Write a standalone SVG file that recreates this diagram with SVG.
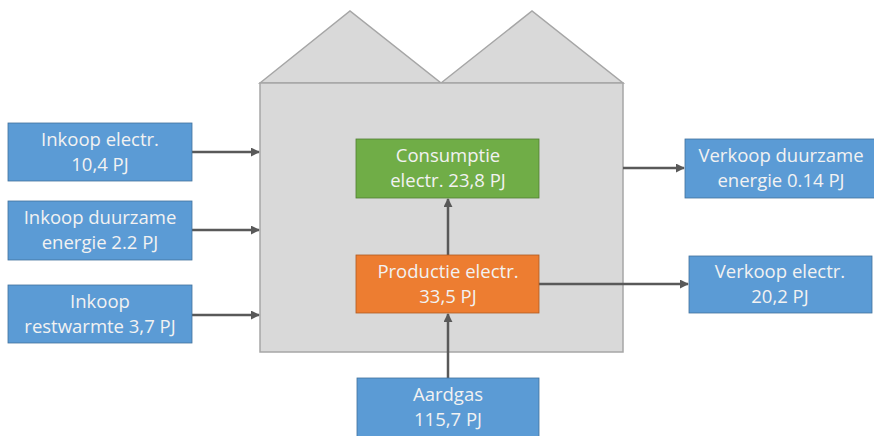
<svg xmlns="http://www.w3.org/2000/svg" width="874" height="436" viewBox="0 0 874 436">
<style>
.bld{fill:#D9D9D9;stroke:#A6A6A6;stroke-width:1.5}
.blue{fill:#5B9BD5;stroke:#41719C;stroke-width:0.8}
.green{fill:#70AD47;stroke:#507E32;stroke-width:0.8}
.orange{fill:#ED7D31;stroke:#AE5A21;stroke-width:0.8}
text{font-family:"Open Sans","Noto Sans","Liberation Sans",sans-serif;font-size:18.5px;fill:#F2F2F2;text-anchor:middle}
.con line{stroke:#595959;stroke-width:2.5;marker-end:url(#ah)}
</style>
<defs>
<marker id="ah" viewBox="0 0 10 10" refX="9" refY="5" markerWidth="3.6" markerHeight="3.6" orient="auto" markerUnits="strokeWidth">
<path d="M0,0 L10,5 L0,10 z" fill="#595959"/>
</marker>
</defs>
<rect width="874" height="436" fill="#FFFFFF"/>
<g id="building">
<polygon class="bld" points="260,83 350,11 441,83"/>
<polygon class="bld" points="441,83 532,11 623,83"/>
<rect class="bld" x="260" y="83" width="363" height="269"/>
</g>
<g class="con">
<line x1="192" y1="152" x2="259" y2="152"/>
<line x1="192" y1="230" x2="259" y2="230"/>
<line x1="192" y1="315" x2="259" y2="315"/>
<line x1="448" y1="255" x2="448" y2="199"/>
<line x1="448" y1="378" x2="448" y2="314"/>
<line x1="623" y1="168" x2="684" y2="168"/>
<line x1="539" y1="284" x2="688" y2="284"/>
</g>
<g id="inkoop-electr">
<rect class="blue" x="8" y="123" width="184" height="58"/>
<text x="100" y="146">Inkoop electr.</text>
<text x="100" y="171">10,4 PJ</text>
</g>
<g id="inkoop-duurzame">
<rect class="blue" x="8" y="201" width="184" height="59"/>
<text x="100" y="224">Inkoop duurzame</text>
<text x="100" y="249">energie 2.2 PJ</text>
</g>
<g id="inkoop-restwarmte">
<rect class="blue" x="8" y="285" width="184" height="58"/>
<text x="100" y="308">Inkoop</text>
<text x="100" y="333">restwarmte 3,7 PJ</text>
</g>
<g id="consumptie">
<rect class="green" x="356" y="139" width="183" height="59"/>
<text x="448" y="162">Consumptie</text>
<text x="448" y="187">electr. 23,8 PJ</text>
</g>
<g id="productie">
<rect class="orange" x="356" y="255" width="183" height="58"/>
<text x="448" y="278">Productie electr.</text>
<text x="448" y="303">33,5 PJ</text>
</g>
<g id="aardgas">
<rect class="blue" x="357" y="378" width="182" height="62"/>
<text x="448" y="401">Aardgas</text>
<text x="448" y="426">115,7 PJ</text>
</g>
<g id="verkoop-duurzame">
<rect class="blue" x="685" y="139" width="190" height="59"/>
<text x="781" y="162">Verkoop duurzame</text>
<text x="781" y="187">energie 0.14 PJ</text>
</g>
<g id="verkoop-electr">
<rect class="blue" x="689" y="256" width="183" height="57"/>
<text x="780" y="278">Verkoop electr.</text>
<text x="780" y="303">20,2 PJ</text>
</g>
</svg>
